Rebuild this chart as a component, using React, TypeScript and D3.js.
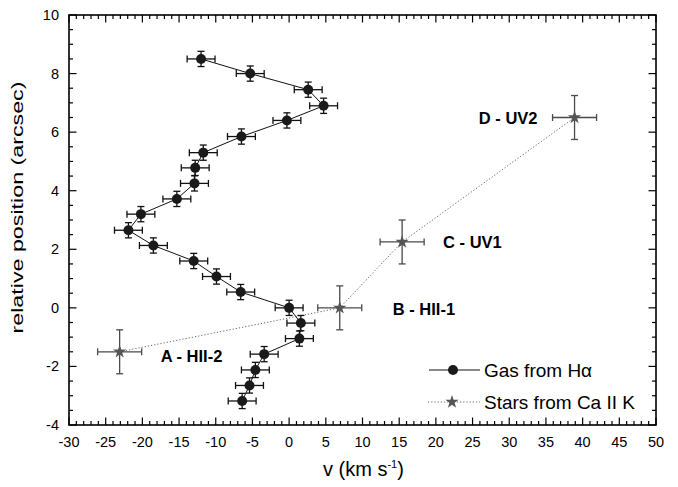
import React from 'react';
import * as d3 from 'd3';

// gas (H-alpha) velocities and positions
const gasV = [-12.0, -5.3, 2.6, 4.7, -0.3, -6.5, -11.7, -12.8, -12.9, -15.3, -20.2, -21.9, -18.5, -13.0, -9.9, -6.6, 0.0, 1.6, 1.4, -3.4, -4.6, -5.4, -6.4];
const gasPos = [8.5, 8.0, 7.45, 6.9, 6.4, 5.85, 5.3, 4.78, 4.25, 3.72, 3.2, 2.65, 2.13, 1.6, 1.07, 0.54, 0.0, -0.52, -1.05, -1.58, -2.12, -2.65, -3.18];
const gasVErr = 1.9;
const gasPosErr = 0.26;

// stars (Ca II K)
const starV = [-23.1, 6.9, 15.4, 38.9];
const starPos = [-1.5, 0.0, 2.25, 6.5];
const starVErr = 3.0;
const starPosErr = 0.75;
const starLabels = ['A - HII-2', 'B - HII-1', 'C - UV1', 'D - UV2'];

const xTicks = [-30, -25, -20, -15, -10, -5, 0, 5, 10, 15, 20, 25, 30, 35, 40, 45, 50];
const yTicks = [-4, -2, 0, 2, 4, 6, 8, 10];

const W = 678, H = 487;
const L = 69, R = 656, T = 15, B = 425;
const font = 'Liberation Sans, Arial, Helvetica, sans-serif';

export default function App() {
  const x = d3.scaleLinear().domain([-30, 50]).range([L, R]);
  const y = d3.scaleLinear().domain([-4, 10]).range([B, T]);

  const xMinor = d3.range(-30, 50.01, 1);
  const yMinor = d3.range(-4, 10.01, 0.5);

  const gasPts = gasV.map((v, i) => [v, gasPos[i]] as [number, number]);
  const starPts = starV.map((v, i) => [v, starPos[i]] as [number, number]);
  const line = d3.line<[number, number]>().x(d => x(d[0])).y(d => y(d[1]));
  const star = d3.symbol().type(d3.symbolStar).size(55)();

  // label offsets (px) relative to each star
  const labelOff = [
    { dx: 41, dy: 4, anchor: 'start' },
    { dx: 53, dy: 1, anchor: 'start' },
    { dx: 41, dy: 0, anchor: 'start' },
    { dx: -37, dy: 0, anchor: 'end' },
  ];

  const cap = 3.5;
  const errBars = (pts: [number, number][], ev: number, ep: number, color: string, w: number) =>
    pts.map((p, i) => {
      const cx = x(p[0]), cy = y(p[1]);
      const x0 = x(p[0] - ev), x1 = x(p[0] + ev);
      const y0 = y(p[1] - ep), y1 = y(p[1] + ep);
      return (
        <g key={i} stroke={color} strokeWidth={w} fill="none">
          <line x1={x0} x2={x1} y1={cy} y2={cy} />
          <line x1={x0} x2={x0} y1={cy - cap} y2={cy + cap} />
          <line x1={x1} x2={x1} y1={cy - cap} y2={cy + cap} />
          <line x1={cx} x2={cx} y1={y0} y2={y1} />
          <line x1={cx - cap} x2={cx + cap} y1={y0} y2={y0} />
          <line x1={cx - cap} x2={cx + cap} y1={y1} y2={y1} />
        </g>
      );
    });

  return (
    <svg width={W} height={H} style={{ position: 'absolute', left: 0, top: 0, background: '#fff' }} fontFamily={font}>
      <rect width={W} height={H} fill="#fff" />
      {/* ticks */}
      <g stroke="#000" strokeWidth={1.2}>
        {xMinor.map(v => {
          const len = v % 5 === 0 ? 7.5 : 4;
          return (
            <g key={'x' + v}>
              <line x1={x(v)} x2={x(v)} y1={B} y2={B - len} />
              <line x1={x(v)} x2={x(v)} y1={T} y2={T + len} />
            </g>
          );
        })}
        {yMinor.map(v => {
          const len = Math.abs(v % 2) < 1e-6 ? 7.5 : 4;
          return (
            <g key={'y' + v}>
              <line x1={L} x2={L + len} y1={y(v)} y2={y(v)} />
              <line x1={R} x2={R - len} y1={y(v)} y2={y(v)} />
            </g>
          );
        })}
      </g>
      <rect x={L} y={T} width={R - L} height={B - T} fill="none" stroke="#000" strokeWidth={1.6} />

      {/* tick labels */}
      <g fontSize={14.5} fill="#000">
        {xTicks.map(v => (
          <text key={v} x={x(v)} y={447} textAnchor="middle">{v}</text>
        ))}
        {yTicks.map(v => (
          <text key={v} x={59} y={y(v) + 5} textAnchor="end">{v}</text>
        ))}
      </g>

      {/* axis titles */}
      <text x={323} y={476} fontSize={20} fill="#000">
        v (km s<tspan dy={-8} fontSize={11}>-1</tspan><tspan dy={8}>)</tspan>
      </text>
      <text transform={`translate(23,${(78 + 337) / 2}) rotate(-90)`} textAnchor="middle" fontSize={16}
        textLength={252} lengthAdjust="spacingAndGlyphs" fill="#000">relative position (arcsec)</text>

      {/* stars */}
      <path d={line(starPts) || ''} fill="none" stroke="#666" strokeWidth={1} strokeDasharray="1.2,2" />
      {errBars(starPts, starVErr, starPosErr, '#4a4a4a', 1.3)}
      {starPts.map((p, i) => (
        <path key={i} d={star} transform={`translate(${x(p[0])},${y(p[1])})`} fill="#555" />
      ))}
      {starPts.map((p, i) => (
        <text key={i} x={x(p[0]) + labelOff[i].dx} y={y(p[1]) + labelOff[i].dy + 6} textAnchor={labelOff[i].anchor}
          fontSize={16.5} fontWeight="bold" fill="#000">{starLabels[i]}</text>
      ))}

      {/* gas */}
      <path d={line(gasPts) || ''} fill="none" stroke="#111" strokeWidth={1} />
      {errBars(gasPts, gasVErr, gasPosErr, '#111', 1.3)}
      {gasPts.map((p, i) => (
        <circle key={i} cx={x(p[0])} cy={y(p[1])} r={5} fill="#1a1a1a" />
      ))}

      {/* legend */}
      <line x1={429} x2={480} y1={370} y2={370} stroke="#111" strokeWidth={1} />
      <circle cx={453} cy={370} r={5} fill="#1a1a1a" />
      <text x={484} y={377} fontSize={19} fill="#000">Gas from H&alpha;</text>
      <line x1={428} x2={480} y1={402} y2={402} stroke="#666" strokeWidth={1} strokeDasharray="1.2,2" />
      <path d={star} transform="translate(452,402)" fill="#555" />
      <text x={484} y={409} fontSize={19} fill="#000">Stars from Ca II K</text>
    </svg>
  );
}
